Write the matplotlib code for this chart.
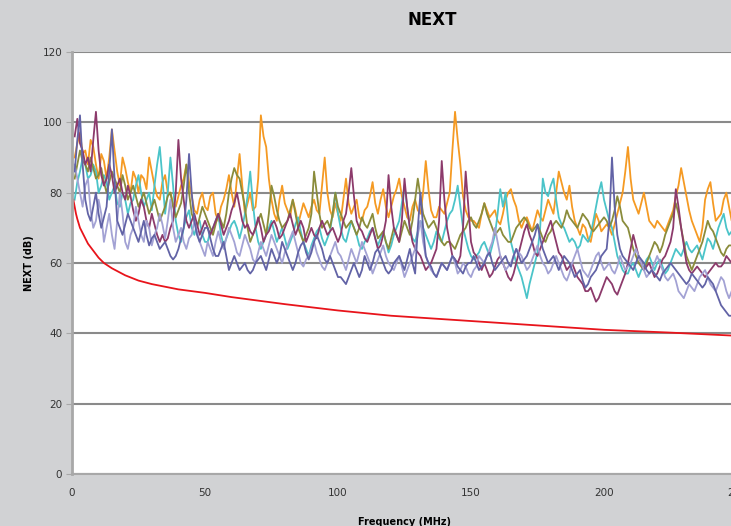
import numpy as np
import matplotlib
matplotlib.use('Agg')
import matplotlib.pyplot as plt

# NEXT sweep, one reading per MHz (1..249 MHz)
freq = np.arange(1, 250)

pair_orange = [
    90, 94, 97, 91, 92, 88, 95, 93, 88, 84, 91, 89, 84, 90, 98, 92, 86, 82, 90, 87, 83, 80, 86, 84, 80,
    85, 84, 81, 90, 86, 82, 79, 78, 83, 85, 80, 80, 77, 76, 79, 82, 84, 88, 83, 79, 75, 74, 78, 80, 76,
    75, 79, 80, 74, 72, 76, 78, 81, 85, 80, 76, 84, 91, 82, 74, 77, 80, 75, 76, 84, 102, 96, 93, 84, 78,
    74, 72, 78, 82, 77, 75, 73, 78, 75, 71, 74, 77, 75, 73, 76, 78, 75, 74, 82, 90, 80, 75, 73, 77, 74,
    72, 78, 84, 77, 74, 76, 78, 73, 72, 75, 76, 79, 83, 77, 74, 78, 81, 76, 73, 76, 79, 81, 84, 79, 76,
    73, 72, 76, 78, 75, 74, 80, 89, 81, 75, 73, 73, 76, 75, 74, 77, 80, 92, 103, 95, 88, 79, 75, 73, 72,
    72, 71, 70, 74, 77, 75, 73, 74, 75, 72, 71, 74, 78, 80, 81, 78, 76, 72, 70, 72, 73, 71, 69, 72, 75,
    73, 72, 75, 78, 76, 74, 80, 86, 83, 80, 78, 82, 76, 72, 70, 68, 71, 70, 67, 66, 70, 74, 72, 69, 70,
    71, 70, 68, 71, 74, 77, 80, 86, 93, 84, 78, 76, 74, 77, 80, 76, 72, 71, 70, 72, 71, 70, 69, 71, 73,
    75, 79, 82, 87, 83, 79, 75, 72, 70, 68, 66, 70, 78, 81, 83, 77, 72, 73, 74, 78, 80, 76, 72, 73]

pair_teal = [
    78, 83, 86, 90, 88, 84, 85, 88, 86, 80, 82, 85, 83, 78, 80, 82, 77, 76, 80, 78, 74, 77, 78, 82, 85,
    80, 76, 78, 80, 75, 82, 88, 93, 84, 74, 80, 90, 82, 72, 68, 66, 70, 73, 75, 70, 68, 71, 72, 68, 66,
    66, 69, 70, 72, 74, 68, 65, 67, 69, 71, 72, 70, 67, 70, 74, 79, 86, 77, 70, 66, 64, 66, 68, 70, 72,
    69, 66, 68, 70, 67, 64, 66, 68, 71, 73, 69, 66, 64, 62, 65, 67, 69, 70, 67, 65, 67, 69, 74, 80, 74,
    70, 67, 66, 69, 72, 70, 68, 65, 64, 66, 67, 69, 70, 67, 65, 67, 69, 66, 63, 65, 68, 70, 72, 77, 82,
    76, 70, 67, 66, 69, 72, 70, 68, 66, 64, 66, 69, 67, 66, 69, 72, 74, 75, 78, 82, 76, 70, 67, 64, 62,
    61, 62, 63, 65, 66, 64, 62, 65, 68, 74, 81, 76, 80, 72, 66, 63, 60, 58, 56, 53, 50, 54, 57, 60, 63,
    70, 84, 80, 79, 82, 84, 78, 73, 71, 70, 68, 66, 67, 66, 64, 65, 68, 67, 66, 68, 72, 76, 80, 83, 78,
    75, 72, 70, 66, 62, 60, 58, 57, 57, 59, 60, 58, 56, 58, 59, 61, 62, 60, 58, 60, 61, 59, 57, 58, 60,
    62, 64, 63, 62, 64, 66, 64, 63, 64, 65, 63, 61, 64, 67, 66, 64, 67, 70, 72, 74, 70, 68, 69, 70]

pair_olive = [
    84, 88, 92, 89, 88, 86, 90, 87, 84, 85, 87, 83, 80, 83, 86, 84, 82, 80, 85, 82, 78, 80, 82, 79, 76,
    78, 80, 77, 74, 76, 78, 75, 72, 74, 76, 79, 80, 76, 73, 75, 77, 82, 88, 80, 74, 72, 70, 73, 76, 74,
    72, 70, 68, 71, 74, 72, 70, 74, 80, 84, 87, 85, 84, 80, 76, 70, 66, 68, 70, 72, 74, 71, 68, 74, 82,
    79, 75, 72, 70, 71, 72, 75, 78, 74, 70, 68, 66, 68, 70, 74, 86, 80, 74, 70, 71, 72, 70, 74, 80, 76,
    74, 72, 70, 71, 72, 70, 68, 70, 73, 71, 70, 72, 74, 70, 67, 68, 69, 66, 64, 67, 70, 68, 66, 69, 72,
    70, 68, 72, 78, 84, 79, 74, 72, 70, 71, 72, 70, 68, 66, 65, 66, 66, 65, 64, 66, 68, 69, 70, 72, 73,
    71, 70, 72, 74, 77, 74, 72, 70, 68, 69, 70, 68, 67, 66, 66, 68, 70, 71, 72, 73, 72, 70, 69, 70, 71,
    69, 67, 66, 68, 69, 71, 72, 71, 70, 72, 75, 73, 72, 71, 70, 72, 74, 73, 72, 70, 69, 70, 71, 72, 73,
    72, 70, 72, 75, 79, 76, 72, 71, 70, 67, 64, 62, 60, 59, 58, 60, 62, 64, 66, 65, 63, 65, 68, 70, 72,
    74, 77, 74, 70, 66, 62, 60, 58, 60, 62, 64, 66, 69, 72, 70, 69, 67, 65, 63, 62, 64, 65, 65, 64]

pair_magenta = [
    96, 101, 94, 92, 88, 90, 86, 95, 103, 92, 85, 82, 84, 88, 85, 80, 82, 84, 80, 78, 82, 79, 75, 72, 74,
    78, 76, 72, 70, 74, 71, 68, 66, 68, 66, 67, 70, 72, 80, 95, 84, 78, 72, 70, 72, 74, 71, 68, 70, 72,
    70, 68, 70, 72, 74, 71, 68, 70, 72, 75, 77, 80, 76, 72, 70, 71, 69, 68, 70, 73, 70, 66, 68, 69, 71,
    72, 70, 67, 68, 70, 72, 74, 71, 68, 70, 72, 70, 66, 68, 70, 68, 67, 70, 72, 70, 68, 69, 70, 68, 66,
    68, 72, 74, 80, 87, 79, 72, 70, 69, 67, 66, 68, 70, 67, 64, 65, 68, 72, 85, 76, 70, 68, 66, 72, 84,
    76, 70, 66, 64, 63, 62, 60, 58, 59, 60, 62, 64, 72, 89, 78, 70, 66, 62, 61, 60, 62, 70, 86, 76, 66,
    63, 62, 60, 58, 60, 58, 56, 57, 59, 61, 62, 60, 58, 56, 55, 57, 60, 63, 66, 69, 71, 68, 66, 63, 62,
    64, 66, 68, 70, 72, 69, 66, 63, 62, 60, 58, 59, 60, 58, 56, 55, 54, 52, 52, 53, 51, 49, 50, 52, 54,
    56, 55, 54, 52, 51, 53, 55, 57, 60, 64, 68, 65, 62, 60, 58, 59, 60, 58, 56, 57, 59, 61, 62, 64, 66,
    70, 81, 76, 70, 65, 60, 58, 57, 58, 59, 58, 57, 56, 57, 58, 59, 60, 59, 59, 60, 62, 61, 60, 61]

pair_lavender = [
    88, 84, 80, 76, 82, 84, 75, 70, 72, 78, 74, 66, 70, 74, 68, 64, 72, 80, 74, 66, 64, 68, 70, 76, 72,
    68, 66, 72, 70, 65, 68, 70, 74, 71, 67, 72, 78, 70, 66, 68, 70, 66, 64, 67, 68, 72, 69, 66, 64, 62,
    66, 64, 62, 66, 69, 66, 64, 67, 70, 68, 66, 63, 62, 65, 68, 66, 64, 61, 60, 63, 66, 64, 62, 65, 68,
    66, 64, 62, 60, 63, 65, 67, 69, 66, 63, 60, 59, 61, 62, 64, 66, 63, 61, 59, 58, 60, 62, 64, 66, 63,
    62, 60, 58, 61, 64, 62, 60, 63, 66, 64, 62, 60, 57, 59, 61, 63, 65, 62, 60, 59, 58, 60, 62, 59, 56,
    58, 60, 62, 64, 68, 72, 66, 62, 60, 58, 57, 56, 58, 60, 59, 58, 60, 62, 60, 57, 58, 60, 59, 57, 56,
    58, 59, 62, 61, 60, 62, 64, 66, 70, 66, 62, 60, 58, 59, 60, 62, 64, 63, 62, 60, 58, 59, 61, 63, 65,
    62, 60, 59, 57, 58, 60, 62, 60, 58, 56, 55, 57, 60, 62, 64, 61, 58, 57, 56, 58, 60, 62, 63, 60, 58,
    59, 60, 58, 57, 59, 62, 60, 58, 59, 60, 62, 64, 62, 60, 58, 56, 57, 58, 60, 62, 60, 58, 56, 55, 56,
    57, 55, 52, 51, 50, 52, 54, 53, 52, 54, 56, 57, 58, 56, 54, 53, 52, 54, 56, 55, 52, 50, 52, 54]

pair_slate = [
    86, 95, 102, 88, 78, 74, 72, 76, 80, 74, 70, 73, 76, 86, 98, 84, 72, 70, 68, 71, 74, 72, 70, 68, 66,
    69, 72, 68, 65, 67, 68, 66, 64, 65, 66, 64, 62, 61, 62, 64, 67, 70, 78, 91, 80, 72, 68, 66, 68, 70,
    70, 67, 64, 62, 62, 64, 66, 62, 58, 60, 62, 60, 58, 59, 60, 58, 57, 58, 60, 61, 62, 60, 58, 61, 64,
    62, 60, 62, 66, 64, 62, 60, 58, 60, 63, 65, 66, 63, 61, 63, 66, 68, 66, 64, 61, 60, 62, 60, 58, 56,
    56, 55, 54, 56, 58, 60, 58, 56, 58, 62, 60, 58, 60, 63, 64, 62, 60, 58, 57, 58, 60, 61, 62, 60, 58,
    61, 64, 60, 57, 70, 80, 70, 62, 60, 59, 57, 56, 58, 60, 59, 58, 60, 62, 61, 59, 58, 57, 59, 60, 60,
    62, 60, 58, 59, 60, 62, 63, 60, 58, 59, 60, 61, 62, 60, 59, 62, 64, 62, 60, 61, 62, 64, 66, 68, 71,
    67, 64, 62, 60, 61, 62, 60, 58, 60, 62, 61, 60, 58, 56, 57, 58, 55, 53, 54, 56, 57, 58, 60, 62, 63,
    64, 72, 90, 76, 68, 64, 62, 61, 60, 59, 58, 60, 62, 61, 60, 58, 57, 58, 57, 56, 55, 57, 58, 59, 60,
    59, 58, 57, 56, 55, 54, 55, 57, 56, 55, 54, 53, 54, 56, 55, 54, 52, 50, 48, 47, 46, 45, 45, 46]

# limit line
limit_freq = [0.5, 1, 1.5, 2, 3, 4, 5, 6, 8, 10, 12, 15, 20, 25, 30, 40, 50, 60, 70, 80,
              100, 120, 140, 160, 180, 200, 225, 250]
limit_next = [78, 76, 74, 72.5, 70, 68.5, 67, 65.5, 63.5, 61.5, 60, 58.5, 56.5, 55, 54, 52.5, 51.5,
              50.3, 49.3, 48.3, 46.5, 45, 44, 43, 42, 41, 40.2, 39.3]

series = [
    (pair_orange, '#F59A23'),
    (pair_teal, '#4BC4C9'),
    (pair_olive, '#8A8C3B'),
    (pair_magenta, '#8C3A6B'),
    (pair_lavender, '#A3A2D4'),
    (pair_slate, '#6263A6'),
]

plt.rcParams['font.family'] = ['Liberation Sans Narrow', 'DejaVu Sans']

fig = plt.figure(figsize=(7.31, 5.26), dpi=100, facecolor='#D1D2D4')
ax = fig.add_axes([72 / 731, 52 / 526, 665 / 731, 422 / 526])
ax.set_facecolor('white')

for vals, col in series:
    ax.plot(freq, vals, color=col, lw=1.3)
ax.plot(limit_freq, limit_next, color='#E8141B', lw=1.3)

ax.set_xlim(0, 250)
ax.set_ylim(0, 120)
ax.set_xticks([0, 50, 100, 150, 200, 250])
ax.set_yticks(np.arange(0, 121, 20))
ax.yaxis.grid(True, color='#8A8A8A', lw=1.5)
ax.set_axisbelow(True)

for s in ['top', 'right']:
    ax.spines[s].set_visible(False)
ax.spines['left'].set_color('#A8A8A8')
ax.spines['left'].set_linewidth(2)
ax.spines['bottom'].set_color('#A8A8A8')
ax.spines['bottom'].set_linewidth(1.5)
ax.tick_params(axis='y', length=4, color='#A8A8A8', labelsize=7.5, labelcolor='#333333', pad=3)
ax.tick_params(axis='x', length=0, labelsize=7.5, labelcolor='#333333', pad=10)

ax.set_ylabel('NEXT (dB)', fontsize=7, fontweight='bold', labelpad=6)
ax.set_xlabel('Frequency (MHz)', fontsize=7, fontweight='bold', labelpad=14)
fig.text(432 / 731, 1 - 20 / 526, 'NEXT', ha='center', va='center', fontsize=12, fontweight='bold')

fig.savefig('out.png', dpi=100, facecolor=fig.get_facecolor())
